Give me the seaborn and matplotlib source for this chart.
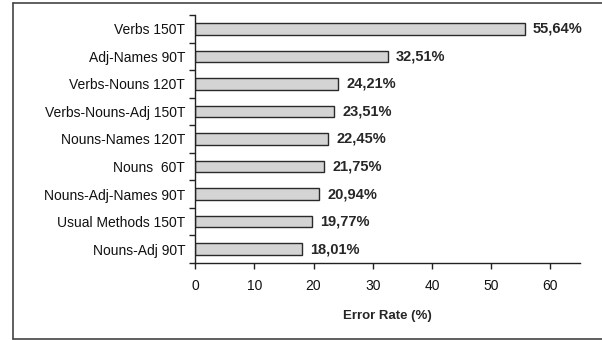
import matplotlib
matplotlib.use("Agg")
import matplotlib.pyplot as plt
import seaborn as sb
import pandas as pd
import numpy as np
from matplotlib.lines import Line2D

# data
methods = ['Verbs 150T', 'Adj-Names 90T', 'Verbs-Nouns 120T', 'Verbs-Nouns-Adj 150T',
           'Nouns-Names 120T', 'Nouns  60T', 'Nouns-Adj-Names 90T',
           'Usual Methods 150T', 'Nouns-Adj 90T']
error_rate = [55.64, 32.51, 24.21, 23.51, 22.45, 21.75, 20.94, 19.77, 18.01]
xticks = [0, 10, 20, 30, 40, 50, 60]

df = pd.DataFrame({'method': methods, 'error': error_rate})

sb.set_style('white')
plt.rcParams['font.family'] = ['Liberation Sans', 'DejaVu Sans']

fig = plt.figure(figsize=(6.02, 3.4), dpi=100)
ax = fig.add_axes([0.324, 0.2265, 0.6395, 0.7295])

sb.barplot(data=df, x='error', y='method', orient='h', width=0.42,
           color='#d4d4d4', edgecolor='#2a2a2a', linewidth=1.0,
           saturation=1, ax=ax)

ax.set_xlim(0, 65)
ax.set_ylim(len(methods) - 0.5, -0.5)
ax.set_xticks(xticks)
ax.set_xticklabels([str(t) for t in xticks], fontsize=10, color='#111111')
ax.set_yticks(range(len(methods)))
ax.set_yticklabels(methods, fontsize=10, color='#111111')
ax.set_yticks(np.arange(-0.5, len(methods)), minor=True)
ax.tick_params(axis='y', which='major', left=True, length=0, pad=7)
ax.tick_params(axis='y', which='minor', left=True, length=4.5, width=1,
               color='#222222', direction='out')
ax.tick_params(axis='x', which='major', bottom=True, length=4.5, width=1,
               color='#222222', direction='out', pad=7)
ax.set_ylabel('')
ax.set_xlabel('Error Rate (%)', fontsize=9.5, fontweight='bold', labelpad=12)

for s in ['top', 'right']:
    ax.spines[s].set_visible(False)
for s in ['left', 'bottom']:
    ax.spines[s].set_color('#222222')
    ax.spines[s].set_linewidth(1.0)

for i, v in enumerate(error_rate):
    ax.annotate(('%.2f' % v).replace('.', ',') + '%', (v, i),
                xytext=(6, 0), textcoords='offset points',
                va='center', ha='left', fontsize=10.5, fontweight='bold')

# outer frame (left, top, bottom)
frame = dict(color='#444444', linewidth=1.2, transform=fig.transFigure)
fig.add_artist(Line2D([12.5 / 602, 12.5 / 602], [1 - 3 / 340, 1 - 339 / 340], **frame))
fig.add_artist(Line2D([12.5 / 602, 1], [1 - 3 / 340, 1 - 3 / 340], **frame))
fig.add_artist(Line2D([12.5 / 602, 1], [1 - 339 / 340, 1 - 339 / 340], **frame))

fig.savefig('out.png', dpi=100)
